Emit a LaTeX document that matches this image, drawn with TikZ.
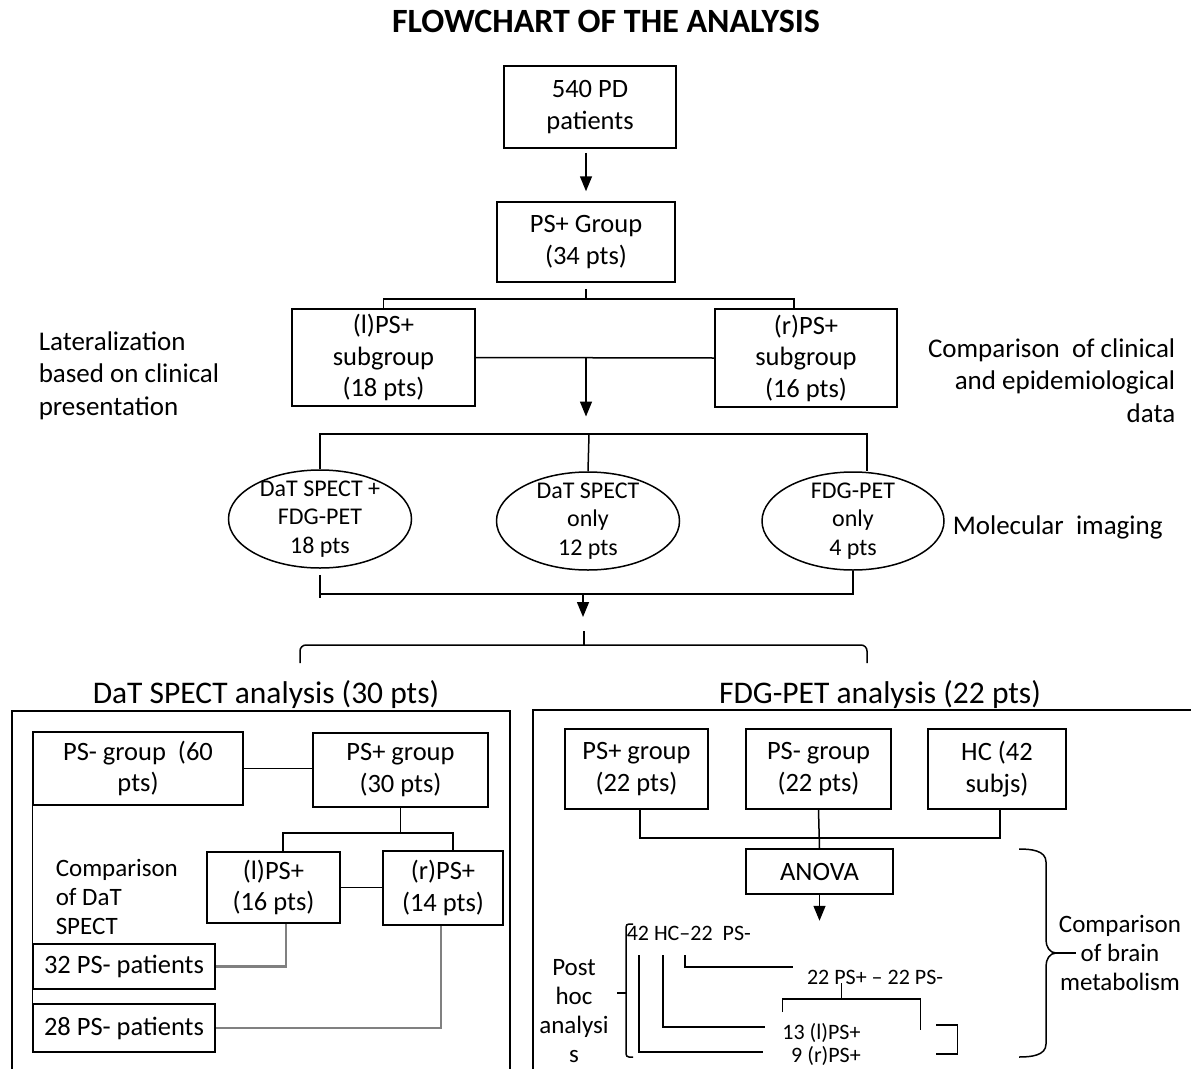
\documentclass[tikz,border=0pt]{standalone}
\usepackage{fontspec}
\setmainfont{Carlito}
\usetikzlibrary{arrows.meta,shapes.geometric}

\newcommand{\flowtitlefont}{\fontsize{34}{36}\selectfont\bfseries}
\newcommand{\flowboxfont}{\fontsize{26.5}{31.5}\selectfont}
\newcommand{\flowsidefont}{\fontsize{27}{32.5}\selectfont}
\newcommand{\flowovalfont}{\fontsize{24}{28.5}\selectfont}
\newcommand{\flowheadfont}{\fontsize{31.5}{36}\selectfont}
\newcommand{\flowsmallfont}{\fontsize{25}{29}\selectfont}
\newcommand{\flowtinyfont}{\fontsize{22}{26}\selectfont}

\begin{document}
\begin{tikzpicture}[
			x=1pt, y=-1pt,
			>={Triangle[width=12pt,length=15pt]},
			line width=1.5pt,
			box node/.style={draw, align=center, inner sep=0pt, font=\flowboxfont},
			oval node/.style={draw, ellipse, align=center, inner sep=-8pt, minimum width=183pt, minimum height=98pt, font=\flowovalfont},
			side node/.style={inner sep=0pt, font=\flowsidefont},
			small node/.style={inner sep=0pt, font=\flowtinyfont},
			grey line/.style={draw=black!50, line width=2.6pt}
			]
			\clip (0,0) rectangle (1191,1068);
			
			\node[font=\flowtitlefont] (title) at (606,21) {FLOWCHART OF THE ANALYSIS};
			
			% patients and subgroups
			\node[box node, minimum width=172pt, minimum height=82pt] (pd) at (590,107) {540 PD\\patients};
			\node[box node, minimum width=178pt, minimum height=80pt] (psg) at (586,242) {PS+ Group\\(34 pts)};
			\node[box node, minimum width=183pt, minimum height=97pt] (lsub) at (383.5,357.5) {(l)PS+\\subgroup\\(18 pts)};
			\node[box node, minimum width=182pt, minimum height=98pt] (rsub) at (806,358) {(r)PS+\\subgroup\\(16 pts)};
			\node[side node, anchor=west, align=left] (lat) at (38,375.5) {Lateralization\\based on clinical\\presentation};
			\node[side node, anchor=east, align=right] (clin) at (1176,380.5) {Comparison\ \ of clinical\\and epidemiological\\data};
			
			\draw[->] ([yshift=-4pt]psg.north |- pd.south) -- ([yshift=10pt]psg.north);
			\draw ([yshift=-6pt]psg.south) -- ([yshift=-16pt]psg.south);
			\draw (lsub.north) |- ([yshift=-16pt]psg.south) -| ([xshift=-12pt]rsub.north);
			\draw (lsub.east) -- (rsub.west);
			\draw[->] (lsub.east -| psg.south) -- ++(0,59);
			
			% molecular imaging
			\node[oval node] (both) at (320,519) {DaT SPECT +\\FDG-PET\\18 pts};
			\node[oval node] (datonly) at (588,521) {DaT SPECT\\only\\12 pts};
			\node[oval node, minimum width=182pt] (fdgonly) at (853,521) {FDG-PET\\only\\4 pts};
			\node[side node, anchor=west] (mol) at (952,527) {Molecular\ \ imaging};
			
			\coordinate (split) at (589,434);
			\draw (both.north) |- (split) -| ([xshift=14pt]fdgonly.north);
			\draw (split) -- (datonly.north);
			\draw ([yshift=-6pt]both.south) -- ([yshift=-29pt]both.south);
			\draw ([yshift=-25pt]both.south) -| (fdgonly.south);
			\coordinate (join) at (583,593);
			\draw[->] (join) -- ++(0,24);
			
			\coordinate (bl) at (300,663);
			\coordinate (br) at (867,663);
			\draw[rounded corners=6pt] (bl) |- (584,645) -| (br);
			\draw (584,631) -- (584,645);
			
			% DaT SPECT panel
			\node[font=\flowheadfont] (dathead) at (266,695) {DaT SPECT analysis (30 pts)};
			\draw (12,711) rectangle (510,1090);
			\node[box node, minimum width=210pt, minimum height=73pt] (neg60) at (138,768.5) {PS- group\ \ (60\\pts)};
			\node[box node, minimum width=175pt, minimum height=74pt] (pos30) at (400.5,770) {PS+ group\\(30 pts)};
			\node[box node, minimum width=133pt, minimum height=71pt] (lpos16) at (273.5,887.5) {(l)PS+\\(16 pts)};
			\node[box node, minimum width=120pt, minimum height=74pt] (rpos14) at (443,888) {(r)PS+\\(14 pts)};
			\node[box node, minimum width=182pt, minimum height=45pt] (neg32) at (124,966.5) {32 PS- patients};
			\node[box node, minimum width=182pt, minimum height=48pt] (neg28) at (124,1028) {28 PS- patients};
			\node[inner sep=0pt, anchor=west, align=left, font=\flowsmallfont] (datcmp) at (55,897) {Comparison\\of DaT\\SPECT};
			
			\draw (neg60.east) -- (neg60.east -| pos30.west);
			\draw (pos30.south) -- ++(0,25);
			\draw ([xshift=9.5pt]lpos16.north) |- ([yshift=-25pt]pos30.south) -| ([xshift=10pt]rpos14.north);
			\draw (lpos16.east) -- (lpos16.east -| rpos14.west);
			\draw (neg60.south west) -- (neg28.north west);
			\draw[grey line] ([xshift=12.5pt]lpos16.south) |- (neg32.east);
			\draw[grey line] ([xshift=-2pt]rpos14.south) |- (neg28.east);
			
			% FDG-PET panel
			\node[font=\flowheadfont] (fdghead) at (880,695) {FDG-PET analysis (22 pts)};
			\draw (533,710) rectangle (1200,1090);
			\node[box node, minimum width=143pt, minimum height=80pt] (fpos) at (636.5,769) {PS+ group\\(22 pts)};
			\node[box node, minimum width=145pt, minimum height=80pt] (fneg) at (818.5,769) {PS- group\\(22 pts)};
			\node[box node, minimum width=138pt, minimum height=80pt] (hc) at (997,769) {HC (42\\subjs)};
			\node[box node, minimum width=147pt, minimum height=45pt] (anova) at (819.5,871.5) {ANOVA};
			
			\draw ([xshift=3.5pt]fpos.south) |- ([shift={(3,28)}]hc.south) -- ([xshift=3pt]hc.south);
			\draw (fneg.south) -- (anova.north);
			\draw[->] (anova.south) -- ++(0,26);
			
			% post hoc comparisons
			\node[small node, anchor=west] (hcneg) at (626,933) {42 HC--22\ \ PS-};
			\node[small node] (posneg) at (875,977) {22 PS+ -- 22 PS-};
			\node[small node] (lpos13) at (821.5,1033) {13 (l)PS+};
			\node[small node] (rpos9) at (826,1055.5) {9 (r)PS+};
			\node[align=center, font=\flowsmallfont] (posthoc) at (574,1011) {Post\\hoc\\analysi\\s};
			\node[align=center, font=\flowsmallfont] (brain) at (1120,953) {Comparison\\of brain\\metabolism};
			
			\draw[rounded corners=3pt] ([shift={(7,-9)}]hcneg.west) -| ([shift={(0,124)}]hcneg.west) -- ([shift={(7,124)}]hcneg.west);
			\draw ([shift={(0,60)}]hcneg.west) -- ++(-9,0);
			\draw ([shift={(13,22)}]hcneg.west) |- ([shift={(-27,-3.5)}]rpos9.west);
			\draw ([shift={(37,22)}]hcneg.west) |- ([shift={(-17,-6)}]lpos13.west);
			\draw ([shift={(59,22)}]hcneg.west) |- ([shift={(-13,-10)}]posneg.west);
			\draw ([shift={(35,6)}]posneg.west) -- ++(0,16);
			\draw ([shift={(-24,35)}]posneg.west) |- ([shift={(114,22)}]posneg.west) -- ++(0,31);
			\draw ([shift={(75,-8)}]lpos13.east) -| ++(21,29) -- ++(-21,0);
			
			\coordinate (tip) at (1056,953);
			\draw (1019,849) to[out=0,in=90] (1046,862) -- (1046,940) to[out=-90,in=180] (tip) to[out=180,in=90] (1046,966) -- (1046,1044) to[out=-90,in=0] (1019,1057);
			\draw (tip) -- ++(20,0);
		\end{tikzpicture}
\end{document}
